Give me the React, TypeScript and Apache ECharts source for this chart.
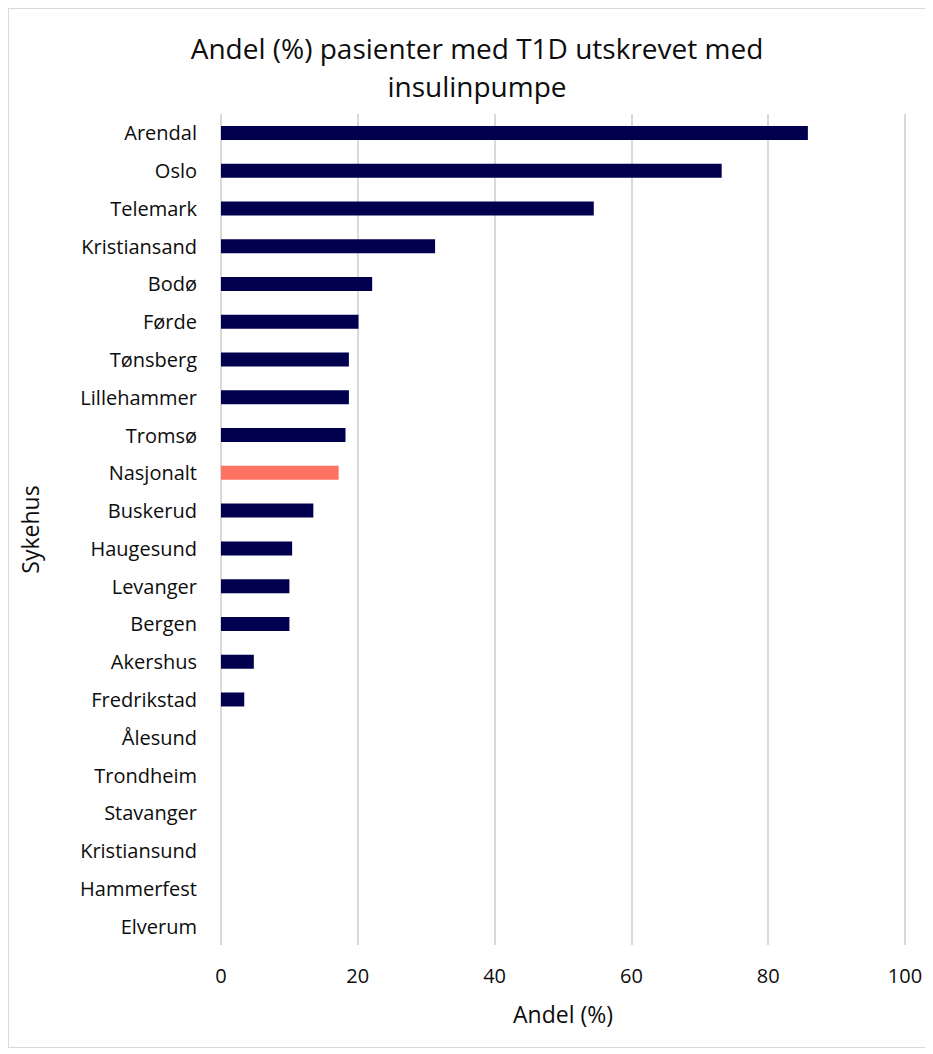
import React, { useEffect, useRef } from "react";
import * as echarts from "echarts";

// Hospitals, top to bottom as listed
const hospitals: string[] = [
  "Arendal", "Oslo", "Telemark", "Kristiansand", "Bodø", "Førde", "Tønsberg",
  "Lillehammer", "Tromsø", "Nasjonalt", "Buskerud", "Haugesund", "Levanger",
  "Bergen", "Akershus", "Fredrikstad", "Ålesund", "Trondheim", "Stavanger",
  "Kristiansund", "Hammerfest", "Elverum",
];

// Share (%) of T1D patients discharged with an insulin pump
const shares: number[] = [
  85.8, 73.2, 54.5, 31.3, 22.1, 20.1, 18.7,
  18.7, 18.2, 17.2, 13.5, 10.4, 10.0,
  10.0, 4.8, 3.4, 0, 0, 0,
  0, 0, 0,
];

const xTicks: number[] = [0, 20, 40, 60, 80, 100];

const NATIONAL = "Nasjonalt";
const BAR_COLOR = "#00004f";
const NATIONAL_COLOR = "#ff7261";
const FONT = "'Open Sans', sans-serif";
const TEXT_COLOR = "#0d0d0d";

export default function App() {
  const ref = useRef<HTMLDivElement>(null);

  useEffect(() => {
    if (!ref.current) return;
    const chart = echarts.init(ref.current, undefined, { renderer: "svg" });
    chart.setOption({
      animation: false,
      backgroundColor: "#ffffff",
      graphic: [
        {
          type: "text",
          x: 468,
          y: 39,
          style: {
            text: "Andel (%) pasienter med T1D utskrevet med",
            font: `28px ${FONT}`,
            fill: TEXT_COLOR,
            textAlign: "center",
            textVerticalAlign: "middle",
          },
        },
        {
          type: "text",
          x: 468,
          y: 77,
          style: {
            text: "insulinpumpe",
            font: `28px ${FONT}`,
            fill: TEXT_COLOR,
            textAlign: "center",
            textVerticalAlign: "middle",
          },
        },
      ],
      grid: { left: 212, right: 27, top: 105, bottom: 102, containLabel: false },
      xAxis: {
        type: "value",
        min: xTicks[0],
        max: xTicks[xTicks.length - 1],
        interval: 20,
        name: "Andel (%)",
        nameLocation: "middle",
        nameGap: 57,
        nameTextStyle: { fontFamily: FONT, fontSize: 23, color: TEXT_COLOR },
        axisLine: { show: false },
        axisTick: { show: false },
        axisLabel: { fontFamily: FONT, fontSize: 20, color: TEXT_COLOR, margin: 20 },
        splitLine: { show: true, lineStyle: { color: "#d9d9d9", width: 2 } },
      },
      yAxis: {
        type: "category",
        data: hospitals,
        inverse: true,
        name: "Sykehus",
        nameLocation: "middle",
        nameGap: 180,
        nameTextStyle: { fontFamily: FONT, fontSize: 23, color: TEXT_COLOR },
        axisLine: { show: false },
        axisTick: { show: false },
        axisLabel: { fontFamily: FONT, fontSize: 20, color: TEXT_COLOR, margin: 24 },
      },
      series: [
        {
          type: "bar",
          barWidth: 14,
          data: hospitals.map((h, i) => ({
            value: shares[i],
            itemStyle: { color: h === NATIONAL ? NATIONAL_COLOR : BAR_COLOR },
          })),
        },
      ],
    });
    return () => chart.dispose();
  }, []);

  return (
    <div
      style={{
        width: 923,
        height: 1038,
        border: "1px solid #d9d9d9",
      }}
    >
      <div ref={ref} style={{ width: 923, height: 1038 }} />
    </div>
  );
}
